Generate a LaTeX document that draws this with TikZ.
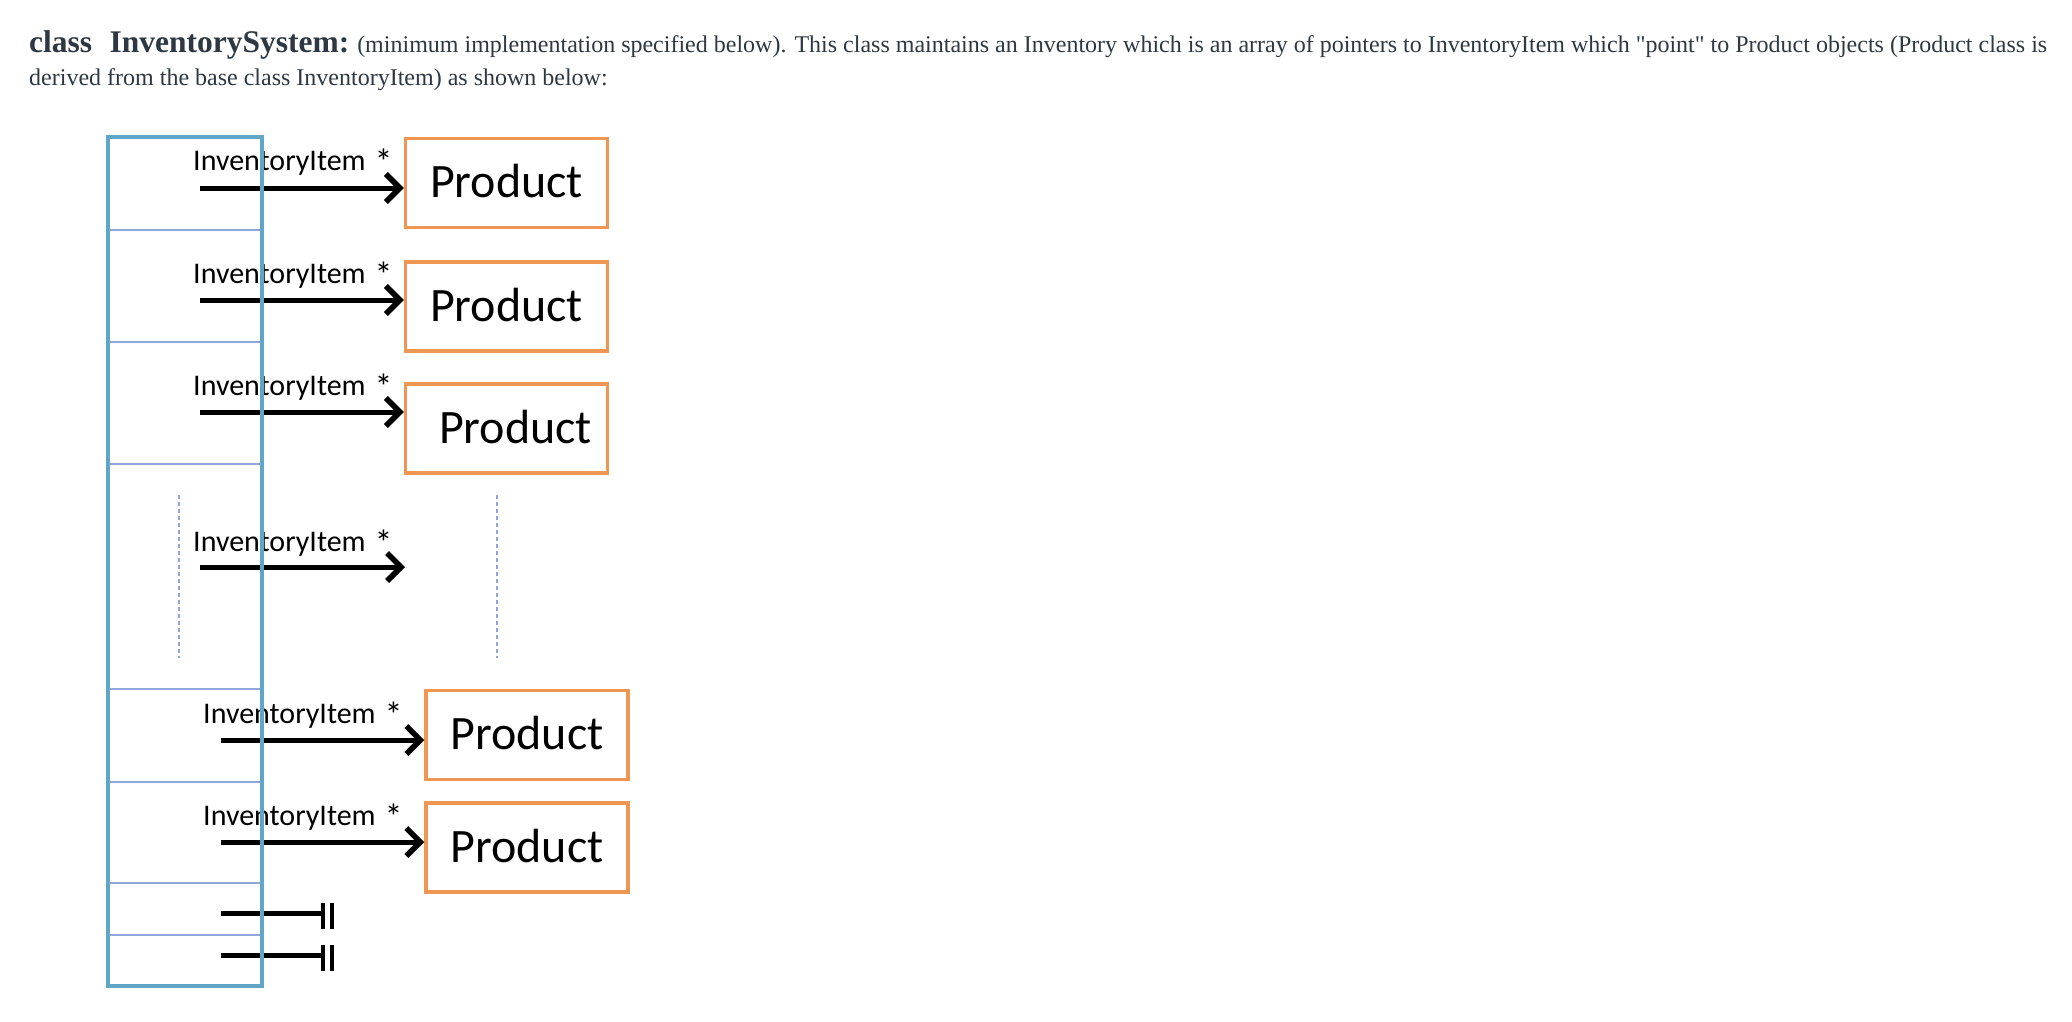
\documentclass[tikz,border=0pt]{standalone}
\usepackage{fontspec}
\setmainfont{Liberation Serif}[Ligatures=TeXOff]
\newfontfamily\calibri{Carlito}
\usepackage{tikz}
\usetikzlibrary{arrows.meta}
\definecolor{arraycol}{RGB}{95,166,199}
\definecolor{slotcol}{RGB}{143,166,219}
\definecolor{prodcol}{RGB}{238,150,82}
\definecolor{headcol}{RGB}{46,56,66}
\newcommand{\ptrtxt}{InventoryItem\hspace{0.3em}\raisebox{-4pt}{\fontsize{36}{36}\selectfont *}}
\newcommand{\prodtxt}{\raisebox{4pt}{Product}}

\begin{document}
\begin{tikzpicture}[x=1pt,y=-1pt,
    prodbox/.style={draw=prodcol,line width=3.5pt,minimum width=202pt,minimum height=89pt,inner sep=0pt,font=\calibri\fontsize{48}{52}\selectfont},
    ptrlbl/.style={anchor=base west,inner sep=0pt,font=\calibri\fontsize{30}{34}\selectfont},
    ptr/.style={line width=5pt,-{Straight Barb[length=14pt,width=28pt,line width=5.5pt]}},
    slot/.style={draw=slotcol,line width=1.5pt},
    gap/.style={draw=slotcol,line width=1.3pt,dash pattern=on 4pt off 3pt},
    nullln/.style={line width=5pt},
    nullbar/.style={line width=4pt},
    headtxt/.style={anchor=base west,inner sep=0pt,text=headcol}]
                  \useasboundingbox (0,0) rectangle (2072,1022);
                  % heading
                  \node[headtxt] (head1) at (29,53) {\fontsize{31.5}{36}\selectfont\bfseries class\hspace{0.55em}InventorySystem:\fontsize{24}{28}\selectfont\mdseries{} (minimum implementation specified below). This class maintains an Inventory which is an array of pointers to InventoryItem which "point" to Product objects (Product class is};
                  \node[headtxt,font=\fontsize{24}{28}\selectfont] (head2) at (29,86) {derived from the base class InventoryItem) as shown below:};
                  % products
                  \node[prodbox] (p1) at (506.5,183) {\prodtxt};
                  \node[prodbox] (p2) at (506.5,306.5) {\prodtxt};
                  \node[prodbox] (p3) at (506.5,428.5) {\hspace*{18pt}\prodtxt};
                  \node[prodbox] (p5) at (527,735) {\prodtxt};
                  \node[prodbox] (p6) at (527,847.5) {\prodtxt};
                  % pointers
                  \coordinate (s1) at (200,188);
                  \coordinate (s2) at (200,300);
                  \coordinate (s3) at (200,412);
                  \coordinate (s4) at (200,567);
                  \coordinate (e4) at (405,567);
                  \coordinate (s5) at (221,740);
                  \coordinate (s6) at (221,842);
                  \draw[ptr] (s1) -- (s1 -| p1.west);
                  \draw[ptr] (s2) -- (s2 -| p2.west);
                  \draw[ptr] (s3) -- (s3 -| p3.west);
                  \draw[ptr] (s4) -- (e4);
                  \draw[ptr] (s5) -- (s5 -| p5.west);
                  \draw[ptr] (s6) -- (s6 -| p6.west);
                  \node[ptrlbl] (l1) at (193,171) {\ptrtxt};
                  \node[ptrlbl] (l2) at (193,283) {\ptrtxt};
                  \node[ptrlbl] (l3) at (193,395) {\ptrtxt};
                  \node[ptrlbl] (l4) at (193,551) {\ptrtxt};
                  \node[ptrlbl] (l5) at (203,723) {\ptrtxt};
                  \node[ptrlbl] (l6) at (203,825) {\ptrtxt};
                  % null pointers
                  \foreach \y in {913,955} {
                    \draw[nullln] (221,\y) -- (323,\y);
                    \draw[nullbar] (323,\y-10) -- (323,\y+16);
                    \draw[nullbar] (332,\y-10) -- (332,\y+16);
                  }
                  % dots
                  \draw[gap] (179,495) -- (179,658);
                  \draw[gap] (497,495) -- (497,658);
                  % the array
                  \foreach \y in {230,342,464,689,782,883,935}
                    \draw[slot] (110,\y) -- (260,\y);
                  \draw[arraycol,line width=3.5pt] (108,137) rectangle (262,986);
		\end{tikzpicture}
\end{document}
